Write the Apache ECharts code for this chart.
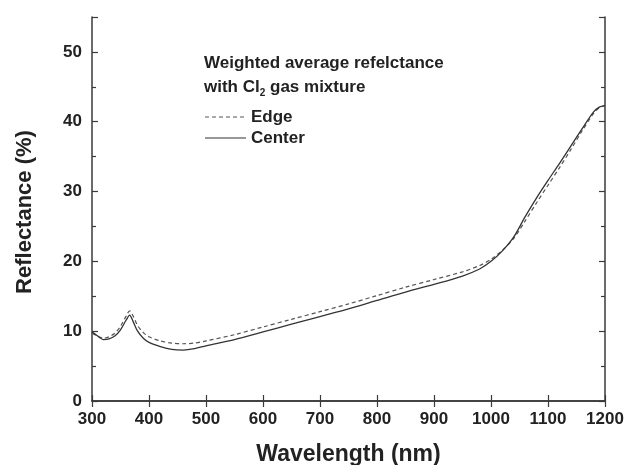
<!DOCTYPE html>
<html>
<head>
<meta charset="utf-8">
<script src="https://cdn.jsdelivr.net/npm/echarts@6/dist/echarts.min.js"></script>
<style>
  html, body { margin: 0; padding: 0; background: #fff; }
  #chart { width: 632px; height: 465px; }
</style>
</head>
<body>
<div id="chart"></div>
<script>
// wavelength (nm) sample points
const wavelength = [300, 310, 320, 330, 340, 350, 360, 366, 372, 380, 390, 400, 420, 440, 460, 480, 500, 550, 600, 650, 700, 750, 800, 850, 900, 950, 980, 1000, 1020, 1040, 1060, 1080, 1100, 1120, 1140, 1160, 1180, 1190, 1200]

// reflectance (%)
const edgeValues = [9.7, 9.3, 9.0, 9.2, 9.7, 10.7, 12.2, 12.9, 12.2, 10.8, 9.8, 9.2, 8.6, 8.3, 8.2, 8.3, 8.6, 9.5, 10.6, 11.7, 12.8, 13.9, 15.1, 16.3, 17.4, 18.5, 19.4, 20.3, 21.6, 23.3, 25.8, 28.4, 30.9, 33.4, 36.0, 38.7, 41.2, 42.0, 42.3]
const centerValues = [9.9, 9.3, 8.8, 8.9, 9.3, 10.2, 11.6, 12.3, 11.4, 10.0, 9.0, 8.4, 7.8, 7.4, 7.3, 7.5, 7.9, 8.8, 9.9, 11.0, 12.1, 13.2, 14.4, 15.6, 16.7, 17.9, 18.9, 20.0, 21.5, 23.5, 26.4, 29.1, 31.6, 34.0, 36.5, 39.0, 41.4, 42.1, 42.3]

const xTicks = [300, 400, 500, 600, 700, 800, 900, 1000, 1100, 1200]
const yTicks = [0, 10, 20, 30, 40, 50]

const pairs = (xs, ys) => xs.map((x, i) => [x, ys[i]])

const font = 'Liberation Sans, Arial, sans-serif'
const axisColor = '#3a3a3a'
const textColor = '#222'

const chart = echarts.init(document.getElementById('chart'))

const baseAxisLine = { show: true, lineStyle: { color: axisColor, width: 1.5 } }
const tickStyle = { show: true, inside: true, length: 6, lineStyle: { color: axisColor, width: 1.2 } }
const minorStyle = { show: true, splitNumber: 2, length: 4, lineStyle: { color: axisColor, width: 1.2 } }

let opt = {
    animation: false,
    grid: {
        left: 92,
        right: 27,
        top: 17,
        bottom: 64,
        containLabel: false,
        outerBoundsMode: 'none'
    },
    xAxis: [
        {
            type: 'value',
            min: 300,
            max: 1200,
            interval: 100,
            name: 'Wavelength (nm)',
            nameLocation: 'center',
            nameGap: 42,
            nameTextStyle: { fontFamily: font, fontWeight: 'bold', fontSize: 23, color: textColor },
            axisLine: baseAxisLine,
            axisTick: tickStyle,
            splitLine: { show: false },
            axisLabel: {
                margin: 10,
                fontFamily: font,
                fontWeight: 'bold',
                fontSize: 17,
                color: textColor,
                formatter: v => xTicks.includes(v) ? String(v) : ''
            }
        },
        {
            type: 'value',
            position: 'top',
            min: 300,
            max: 1200,
            interval: 100,
            axisLine: baseAxisLine,
            axisTick: tickStyle,
            axisLabel: { show: false },
            splitLine: { show: false }
        }
    ],
    yAxis: [
        {
            type: 'value',
            min: 0,
            max: 55,
            interval: 10,
            axisLine: baseAxisLine,
            axisTick: tickStyle,
            minorTick: minorStyle,
            splitLine: { show: false },
            axisLabel: {
                margin: 10,
                fontFamily: font,
                fontWeight: 'bold',
                fontSize: 17,
                color: textColor,
                showMaxLabel: false,
                formatter: v => yTicks.includes(v) ? String(v) : ''
            }
        },
        {
            type: 'value',
            position: 'right',
            min: 0,
            max: 55,
            interval: 10,
            axisLine: baseAxisLine,
            axisTick: tickStyle,
            minorTick: minorStyle,
            axisLabel: { show: false },
            splitLine: { show: false }
        }
    ],
    graphic: [
        {
            // y axis title
            type: 'text',
            x: 25,
            y: 212,
            rotation: Math.PI / 2,
            style: {
                text: 'Reflectance (%)',
                font: 'bold 22px ' + font,
                fill: textColor,
                align: 'center',
                verticalAlign: 'middle'
            }
        },
        {
            type: 'text',
            x: 204,
            y: 63,
            style: { text: 'Weighted average refelctance', font: 'bold 17px ' + font, fill: textColor, verticalAlign: 'middle' }
        },
        {
            type: 'text',
            x: 204,
            y: 87,
            style: {
                text: 'with Cl{sub|2} gas mixture',
                font: 'bold 17px ' + font,
                fill: textColor,
                verticalAlign: 'middle',
                rich: {
                    sub: { font: 'bold 10px ' + font, fill: textColor, padding: [12, 0, 0, 0] }
                }
            }
        },
        {
            type: 'line',
            shape: { x1: 205, y1: 117, x2: 246, y2: 117 },
            style: { stroke: '#555', lineWidth: 1, lineDash: [4, 3] }
        },
        {
            type: 'text',
            x: 251,
            y: 117,
            style: { text: 'Edge', font: 'bold 17px ' + font, fill: textColor, verticalAlign: 'middle' }
        },
        {
            type: 'line',
            shape: { x1: 205, y1: 138, x2: 246, y2: 138 },
            style: { stroke: '#333', lineWidth: 1.2 }
        },
        {
            type: 'text',
            x: 251,
            y: 138,
            style: { text: 'Center', font: 'bold 17px ' + font, fill: textColor, verticalAlign: 'middle' }
        }
    ],
    series: [
        {
            name: 'Edge',
            type: 'line',
            data: pairs(wavelength, edgeValues),
            smooth: 0.3,
            showSymbol: false,
            lineStyle: { color: '#555', width: 1.2, type: [4, 3] }
        },
        {
            name: 'Center',
            type: 'line',
            data: pairs(wavelength, centerValues),
            smooth: 0.3,
            showSymbol: false,
            lineStyle: { color: '#333', width: 1.3 }
        }
    ]
}
chart.setOption(opt)
</script>
</body>
</html>
